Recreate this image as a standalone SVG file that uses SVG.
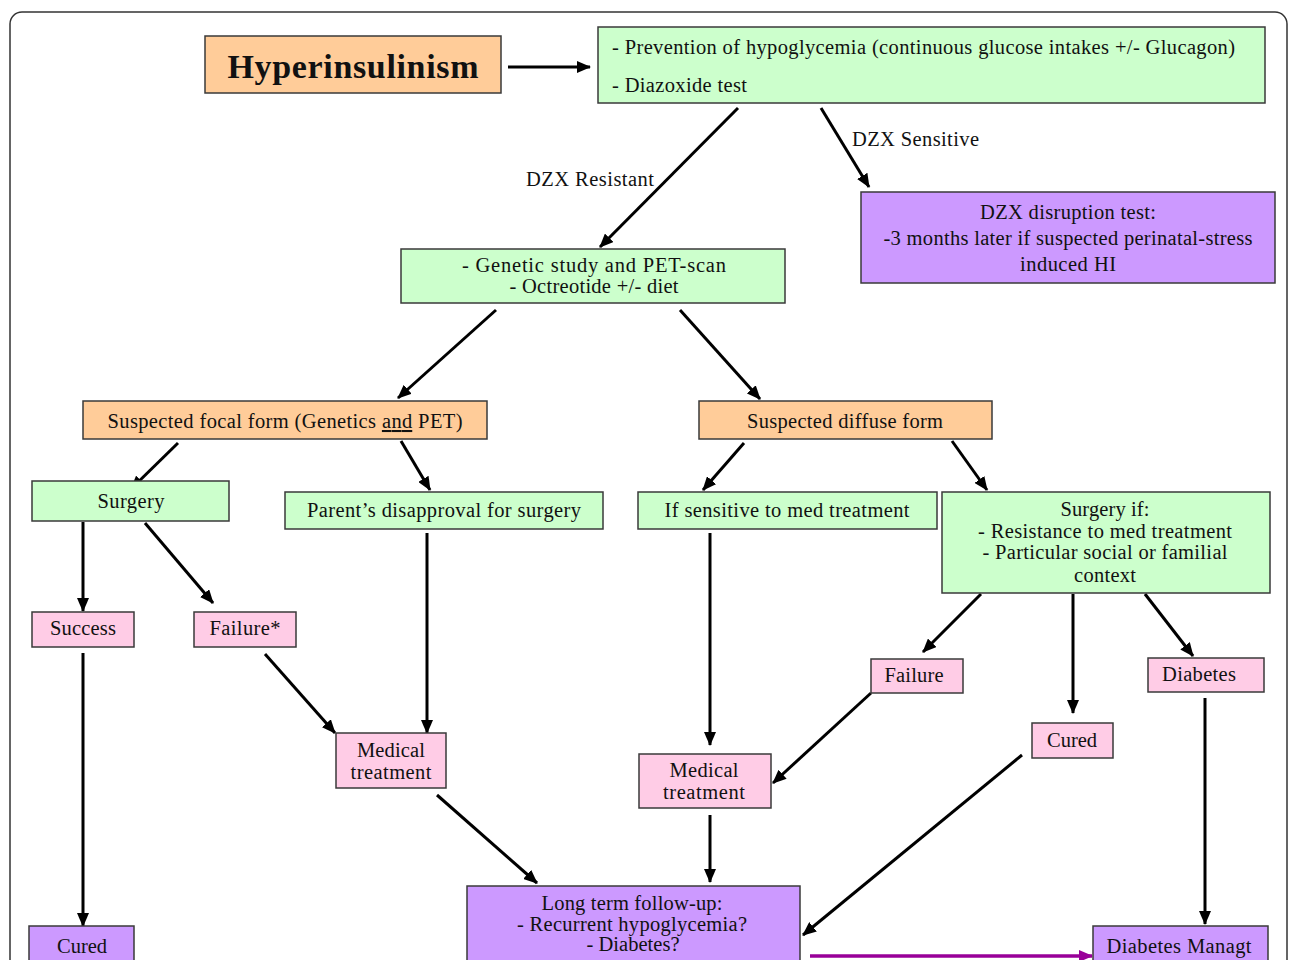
<svg xmlns="http://www.w3.org/2000/svg" width="1290" height="960" viewBox="0 0 1290 960">
<defs>
<marker id="ah" markerUnits="userSpaceOnUse" markerWidth="14" markerHeight="12" refX="13" refY="6" orient="auto">
<path d="M0,0 L14,6 L0,12 z" fill="#000"/>
</marker>
<marker id="ahp" markerUnits="userSpaceOnUse" markerWidth="14" markerHeight="12" refX="13" refY="6" orient="auto">
<path d="M0,0 L14,6 L0,12 z" fill="#990099"/>
</marker>
<style>
.box{stroke:#3a3a3a;stroke-width:1.5}
.g{fill:#ccffcc}
.o{fill:#ffcc99}
.p{fill:#ffcce6}
.v{fill:#cc99ff}
text{font-family:"Liberation Serif","Times New Roman",serif;font-size:20.5px;fill:#111}
.c{text-anchor:middle}
.edge{stroke:#000;stroke-width:3;fill:none;marker-end:url(#ah)}
.pedge{stroke:#990099;stroke-width:3.5;fill:none;marker-end:url(#ahp)}
</style>
</defs>
<rect x="10" y="12" width="1277" height="1000" rx="12" fill="#fff" stroke="#333" stroke-width="1.5"/>

<g id="connectors">
<line class="edge" x1="508" y1="67" x2="590" y2="67"/>
<line class="edge" x1="738" y1="108" x2="600" y2="247"/>
<line class="edge" x1="821" y1="108" x2="869" y2="187"/>
<line class="edge" x1="496" y1="310" x2="398" y2="398"/>
<line class="edge" x1="680" y1="310" x2="760" y2="399"/>
<line class="edge" x1="178" y1="443" x2="131" y2="489"/>
<line class="edge" x1="401" y1="441" x2="430" y2="490"/>
<line class="edge" x1="744" y1="443" x2="703" y2="490"/>
<line class="edge" x1="952" y1="441" x2="987" y2="490"/>
<line class="edge" x1="83" y1="522" x2="83" y2="611"/>
<line class="edge" x1="145" y1="523" x2="213" y2="603"/>
<line class="edge" x1="427" y1="533" x2="427" y2="733"/>
<line class="edge" x1="265" y1="654" x2="335" y2="733"/>
<line class="edge" x1="83" y1="653" x2="83" y2="926"/>
<line class="edge" x1="710" y1="533" x2="710" y2="745"/>
<line class="edge" x1="981" y1="594" x2="923" y2="652"/>
<line class="edge" x1="1073" y1="594" x2="1073" y2="713"/>
<line class="edge" x1="1145" y1="594" x2="1193" y2="656"/>
<line class="edge" x1="871" y1="693" x2="773" y2="783"/>
<line class="edge" x1="710" y1="815" x2="710" y2="882"/>
<line class="edge" x1="437" y1="795" x2="537" y2="883"/>
<line class="edge" x1="1022" y1="755" x2="803" y2="935"/>
<line class="edge" x1="1205" y1="698" x2="1205" y2="924"/>
<line class="pedge" x1="810" y1="956" x2="1092" y2="956"/>
<text x="526" y="186" textLength="128" lengthAdjust="spacing">DZX Resistant</text>
<text x="852" y="146" textLength="127" lengthAdjust="spacing">DZX Sensitive</text>
</g>

<g id="n-hyper">
<rect class="box o" x="205" y="36" width="296" height="57"/>
<text class="c" x="353" y="78" style="font-size:34px;font-weight:bold" textLength="251" lengthAdjust="spacing">Hyperinsulinism</text>
</g>

<g id="n-prevention">
<rect class="box g" x="598" y="27" width="667" height="76"/>
<text x="612" y="54" textLength="623" lengthAdjust="spacing">- Prevention of hypoglycemia (continuous glucose intakes +/- Glucagon)</text>
<text x="612" y="92" textLength="135" lengthAdjust="spacing">- Diazoxide test</text>
</g>

<g id="n-disruption">
<rect class="box v" x="861" y="192" width="414" height="91"/>
<text class="c" x="1068" y="219" textLength="176" lengthAdjust="spacing">DZX disruption test:</text>
<text class="c" x="1068" y="245" textLength="369" lengthAdjust="spacing">-3 months later if suspected perinatal-stress</text>
<text class="c" x="1068" y="271" textLength="96" lengthAdjust="spacing">induced HI</text>
</g>

<g id="n-genetic">
<rect class="box g" x="401" y="249" width="384" height="54"/>
<text class="c" x="594" y="272" textLength="264" lengthAdjust="spacing">- Genetic study  and  PET-scan</text>
<text class="c" x="594" y="293" textLength="169" lengthAdjust="spacing">- Octreotide +/- diet</text>
</g>

<g id="n-focal">
<rect class="box o" x="83" y="401" width="404" height="38"/>
<text class="c" x="285" y="428" textLength="355" lengthAdjust="spacing">Suspected focal form (Genetics <tspan text-decoration="underline">and</tspan> PET)</text>
</g>

<g id="n-diffuse">
<rect class="box o" x="699" y="401" width="293" height="38"/>
<text class="c" x="845" y="428" textLength="196" lengthAdjust="spacing">Suspected diffuse form</text>
</g>

<g id="n-surgery">
<rect class="box g" x="32" y="481" width="197" height="40"/>
<text class="c" x="131" y="508" textLength="67" lengthAdjust="spacing">Surgery</text>
</g>

<g id="n-parent">
<rect class="box g" x="285" y="492" width="318" height="37"/>
<text class="c" x="444" y="517" textLength="274" lengthAdjust="spacing">Parent’s disapproval for surgery</text>
</g>

<g id="n-sensitive">
<rect class="box g" x="638" y="492" width="299" height="37"/>
<text class="c" x="787" y="517" textLength="245" lengthAdjust="spacing">If sensitive to med treatment</text>
</g>

<g id="n-surgeryif">
<rect class="box g" x="942" y="492" width="328" height="101"/>
<text class="c" x="1105" y="516" textLength="89" lengthAdjust="spacing">Surgery if:</text>
<text class="c" x="1105" y="538" textLength="254" lengthAdjust="spacing">- Resistance to med treatment</text>
<text class="c" x="1105" y="559" textLength="245" lengthAdjust="spacing">- Particular social or familial</text>
<text class="c" x="1105" y="582" textLength="62" lengthAdjust="spacing">context</text>
</g>

<g id="n-success">
<rect class="box p" x="32" y="612" width="102" height="35"/>
<text class="c" x="83" y="635" textLength="66" lengthAdjust="spacing">Success</text>
</g>

<g id="n-failure-star">
<rect class="box p" x="194" y="612" width="102" height="35"/>
<text class="c" x="245" y="635" textLength="71" lengthAdjust="spacing">Failure*</text>
</g>

<g id="n-medical-left">
<rect class="box p" x="336" y="733" width="110" height="55"/>
<text class="c" x="391" y="757" textLength="68" lengthAdjust="spacing">Medical</text>
<text class="c" x="391" y="779" textLength="81" lengthAdjust="spacing">treatment</text>
</g>

<g id="n-failure">
<rect class="box p" x="871" y="659" width="92" height="34"/>
<text class="c" x="914" y="682" textLength="59" lengthAdjust="spacing">Failure</text>
</g>

<g id="n-cured-right">
<rect class="box p" x="1032" y="723" width="81" height="35"/>
<text class="c" x="1072" y="747" textLength="50" lengthAdjust="spacing">Cured</text>
</g>

<g id="n-diabetes">
<rect class="box p" x="1148" y="658" width="116" height="34"/>
<text class="c" x="1199" y="681" textLength="74" lengthAdjust="spacing">Diabetes</text>
</g>

<g id="n-medical-mid">
<rect class="box p" x="639" y="754" width="132" height="54"/>
<text class="c" x="704" y="777" textLength="69" lengthAdjust="spacing">Medical</text>
<text class="c" x="704" y="799" textLength="82" lengthAdjust="spacing">treatment</text>
</g>

<g id="n-cured-left">
<rect class="box v" x="29" y="926" width="105" height="50"/>
<text class="c" x="82" y="953" textLength="50" lengthAdjust="spacing">Cured</text>
</g>

<g id="n-longterm">
<rect class="box v" x="467" y="886" width="333" height="90"/>
<text class="c" x="632" y="910" textLength="181" lengthAdjust="spacing">Long term follow-up:</text>
<text class="c" x="632" y="931" textLength="230" lengthAdjust="spacing">- Recurrent hypoglycemia?</text>
<text class="c" x="633" y="951" textLength="93" lengthAdjust="spacing">- Diabetes?</text>
</g>

<g id="n-diabetes-managt">
<rect class="box v" x="1093" y="926" width="175" height="50"/>
<text class="c" x="1179" y="953" textLength="145" lengthAdjust="spacing">Diabetes Managt</text>
</g>
</svg>
